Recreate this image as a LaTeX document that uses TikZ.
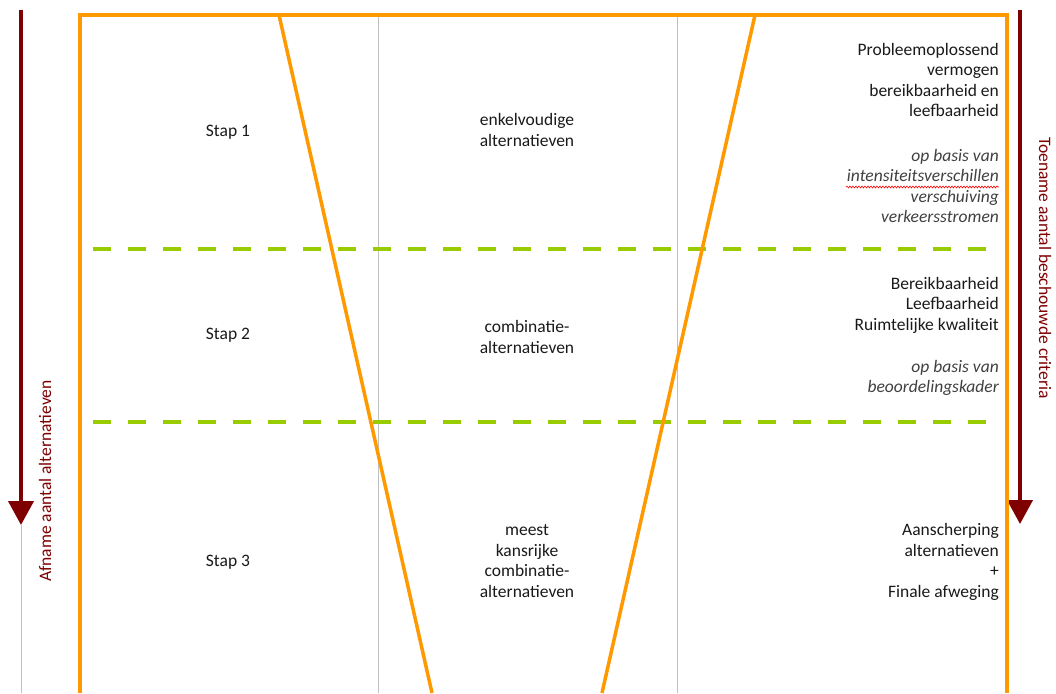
\documentclass[tikz,border=0pt]{standalone}
\usepackage{fontspec}
\setmainfont{Carlito}
\usetikzlibrary{arrows.meta,decorations.pathmorphing}
\definecolor{frameorange}{HTML}{FF9900}
\definecolor{dashgreen}{HTML}{99CC00}
\definecolor{arrowred}{HTML}{7F0000}
\definecolor{txtcol}{HTML}{1A1A1A}
\definecolor{ittxt}{HTML}{404040}
\definecolor{gridgray}{HTML}{BFBFBF}
\tikzset{
  frameline/.style={draw=frameorange, line width=3.5pt, line join=miter},
  vline/.style={draw=frameorange, line width=3.5pt},
  gridline/.style={draw=gridgray, line width=1pt},
  greendash/.style={draw=dashgreen, line width=4pt, dash pattern=on 18pt off 17pt},
  bigarrow/.style={draw=arrowred, line width=4pt, -{Triangle[width=25pt,length=24pt]}},
  label/.style={font=\fontsize{17.5}{20.5}\selectfont, text=txtcol, align=center, inner sep=0pt},
  rlabel/.style={font=\fontsize{17.5}{20.5}\selectfont, text=txtcol, align=right, anchor=east, inner sep=0pt},
  ilabel/.style={font=\fontsize{17.5}{20.5}\selectfont\itshape, text=ittxt, align=right, anchor=east, inner sep=0pt},
  sidelabel/.style={font=\fontsize{17.5}{20}\selectfont, text=arrowred, inner sep=0pt},
}
\begin{document}
\begin{tikzpicture}[x=1pt,y=-1pt]
\useasboundingbox[fill=white] (0,0) rectangle (1056,693);
% coordinates
\coordinate (fbl) at (80,693);
\coordinate (ftl) at (80,15);
\coordinate (ftr) at (1007,15);
\coordinate (fbr) at (1007,693);
\coordinate (g1t) at (378,15);
\coordinate (g1b) at (378,693);
\coordinate (g2t) at (677,15);
\coordinate (g2b) at (677,693);
% grid lines
\draw[gridline] (g1t) -- (g1b);
\draw[gridline] (g2t) -- (g2b);
% left arrow
\coordinate (la0) at (21,10);
\coordinate (la1) at (21,525);
\coordinate (la2) at (21,693);
\draw[gridline] (la1) -- (la2);
\draw[bigarrow] (la0) -- (la1);
% right arrow
\coordinate (ra0) at (1020,10);
\coordinate (ra1) at (1020,524);
\draw[bigarrow] (ra0) -- (ra1);
% green dashed lines
\coordinate (d1a) at (93,249);
\coordinate (d1b) at (990,249);
\coordinate (d2a) at (93,422);
\coordinate (d2b) at (990,422);
\draw[greendash] (d1a) -- (d1b);
\draw[greendash] (d2a) -- (d2b);
% V lines
\coordinate (v1t) at (279,15);
\coordinate (v1b) at (432,693);
\coordinate (v2t) at (755,15);
\coordinate (v2b) at (602,693);
\draw[vline] (v1t) -- (v1b);
\draw[vline] (v2t) -- (v2b);
% frame
\draw[frameline] (fbl) -- (ftl) -- (ftr) -- (fbr);
% side labels
\node[sidelabel, rotate=90] (lefttxt) at (45,481) {Afname aantal alternatieven};
\node[sidelabel, rotate=-90] (righttxt) at (1045,268) {Toename aantal beschouwde criteria};
% step labels
\node[label] (s1) at (228,132) {Stap 1};
\node[label] (s2) at (228,335) {Stap 2};
\node[label] (s3) at (228,562) {Stap 3};
% middle column
\node[label] (m1) at (527,130) {enkelvoudige\\alternatieven};
\node[label] (m2) at (527,337) {combinatie-\\alternatieven};
\node[label] (m3) at (527,561) {meest\\kansrijke\\combinatie-\\alternatieven};
% right column
\node[rlabel] (r1) at (999,80) {Probleemoplossend\\vermogen\\bereikbaarheid en\\leefbaarheid};
\node[ilabel] (r1i) at (999,186) {op basis van\\intensiteitsverschillen\\verschuiving\\verkeersstromen};
\coordinate (wv0) at (846,187);
\coordinate (wv1) at (999,187);
\draw[red, line width=0.6pt, decorate, decoration={snake, amplitude=0.9pt, segment length=3pt}] (wv0) -- (wv1);
\node[rlabel] (r2) at (999,305) {Bereikbaarheid\\Leefbaarheid\\Ruimtelijke kwaliteit};
\node[ilabel] (r2i) at (999,378) {op basis van\\beoordelingskader};
\node[rlabel] (r3) at (999,562) {Aanscherping\\alternatieven\\+\\Finale afweging};
\end{tikzpicture}
\end{document}
